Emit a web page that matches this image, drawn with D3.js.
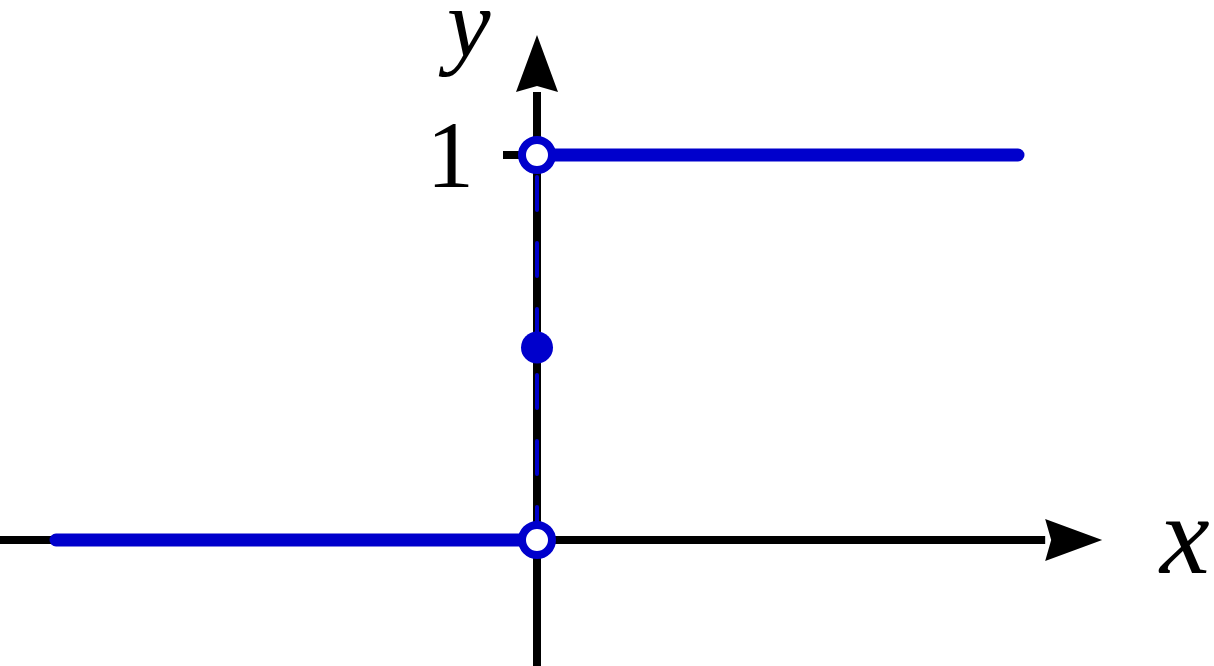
<!DOCTYPE html>
<html>
<head>
<meta charset="utf-8">
<script src="https://cdn.jsdelivr.net/npm/d3@7"></script>
<style>
  body { margin: 0; background: #fff; }
  svg { display: block; }
</style>
</head>
<body>
<div id="chart"></div>
<script>
// step function pieces
var lowSegment = [[-1, 0], [0, 0]];
var highSegment = [[0, 1], [1, 1]];
var jumpSegment = [[0, 0], [0, 1]];
var openPoints = [[0, 1], [0, 0]];
var filledPoints = [[0, 0.5]];
var yTicks = [1];
var yTickLabels = ["1"];
var xAxisRange = [-1.117, 1.175];
var yAxisRange = [-0.33, 1.312];

var width = 1214, height = 666;
var blue = "#0000cc";

var svg = d3.select("#chart").append("svg")
  .attr("width", width)
  .attr("height", height);

var x = d3.scaleLinear().domain([-1, 1]).range([56, 1018]);
var y = d3.scaleLinear().domain([0, 1]).range([540, 155]);

var line = d3.line()
  .x(function(d) { return x(d[0]); })
  .y(function(d) { return y(d[1]); });

// axes
var arrowLen = 57, arrowHalf = 21;
var x0 = x(xAxisRange[0]), x1 = x(xAxisRange[1]);
var yb = y(yAxisRange[0]), yt = y(yAxisRange[1]);

svg.append("line")
  .attr("x1", x0).attr("x2", x1 - arrowLen)
  .attr("y1", y(0)).attr("y2", y(0))
  .attr("stroke", "#000").attr("stroke-width", 8);
svg.append("path")
  .attr("d", "M" + x1 + "," + y(0) + "L" + (x1 - arrowLen) + "," + (y(0) - arrowHalf) +
    "L" + (x1 - arrowLen + 6) + "," + y(0) + "L" + (x1 - arrowLen) + "," + (y(0) + arrowHalf) + "Z")
  .attr("fill", "#000");

svg.append("line")
  .attr("x1", x(0)).attr("x2", x(0))
  .attr("y1", yb).attr("y2", yt + arrowLen)
  .attr("stroke", "#000").attr("stroke-width", 8);
svg.append("path")
  .attr("d", "M" + x(0) + "," + yt + "L" + (x(0) - arrowHalf) + "," + (yt + arrowLen) +
    "L" + x(0) + "," + (yt + arrowLen - 6) + "L" + (x(0) + arrowHalf) + "," + (yt + arrowLen) + "Z")
  .attr("fill", "#000");

// y tick
svg.selectAll(".ytick")
  .data(yTicks)
  .enter().append("line")
  .attr("class", "ytick")
  .attr("x1", x(0) - 34).attr("x2", x(0))
  .attr("y1", function(d) { return y(d); })
  .attr("y2", function(d) { return y(d); })
  .attr("stroke", "#000").attr("stroke-width", 8);

svg.selectAll(".ylabel")
  .data(yTicks)
  .enter().append("text")
  .attr("class", "ylabel")
  .attr("x", x(0) - 63)
  .attr("y", function(d) { return y(d) + 32; })
  .attr("text-anchor", "end")
  .style("font-family", "'Liberation Serif', 'DejaVu Serif', serif")
  .style("font-size", "95px")
  .text(function(d, i) { return yTickLabels[i]; });

// axis names
svg.append("text")
  .attr("x", 1160).attr("y", 573)
  .style("font-family", "'Liberation Serif', 'DejaVu Serif', serif")
  .style("font-style", "italic")
  .style("font-size", "112px")
  .text("x");
svg.append("text")
  .attr("x", 447).attr("y", 56)
  .style("font-family", "'Liberation Serif', 'DejaVu Serif', serif")
  .style("font-style", "italic")
  .style("font-size", "98px")
  .text("y");

// dashed jump
svg.append("path")
  .datum(jumpSegment)
  .attr("d", line)
  .attr("fill", "none")
  .attr("stroke", blue)
  .attr("stroke-width", 4)
  .attr("stroke-linecap", "round")
  .attr("stroke-dasharray", "33,33");

// step pieces
[lowSegment, highSegment].forEach(function(seg) {
  svg.append("path")
    .datum(seg)
    .attr("d", line)
    .attr("fill", "none")
    .attr("stroke", blue)
    .attr("stroke-width", 13)
    .attr("stroke-linecap", "round");
});

svg.selectAll(".filled")
  .data(filledPoints)
  .enter().append("circle")
  .attr("class", "filled")
  .attr("cx", function(d) { return x(d[0]); })
  .attr("cy", function(d) { return y(d[1]); })
  .attr("r", 16)
  .attr("fill", blue);

svg.selectAll(".open")
  .data(openPoints)
  .enter().append("circle")
  .attr("class", "open")
  .attr("cx", function(d) { return x(d[0]); })
  .attr("cy", function(d) { return y(d[1]); })
  .attr("r", 15)
  .attr("fill", "#fff")
  .attr("stroke", blue)
  .attr("stroke-width", 8);
</script>
</body>
</html>
